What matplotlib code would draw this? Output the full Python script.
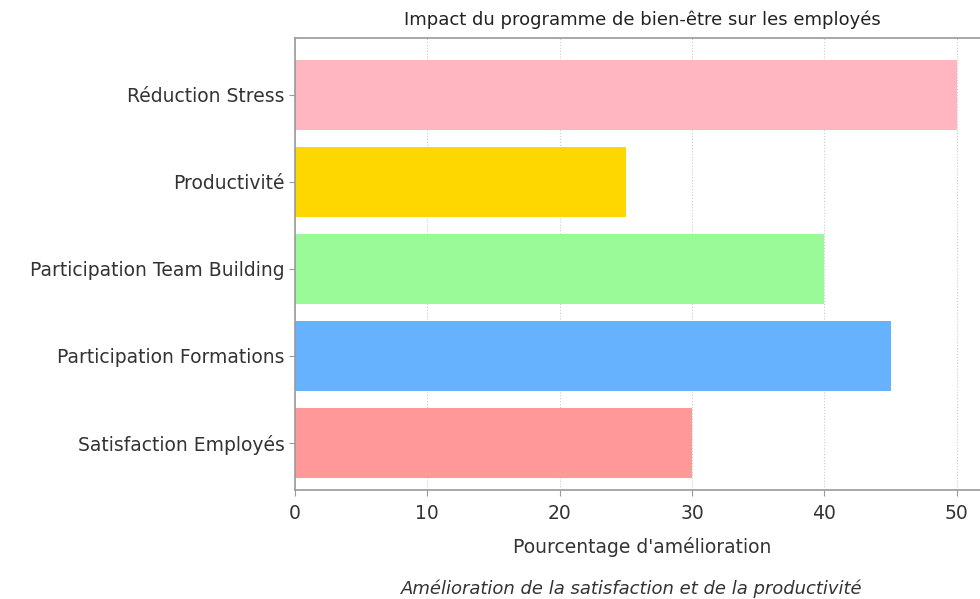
import matplotlib
matplotlib.use("Agg")
import matplotlib.pyplot as plt

categories = ["Satisfaction Employés", "Participation Formations", "Participation Team Building", "Productivité", "Réduction Stress"]
values = [30, 45, 40, 25, 50]
colors = ["#FF9999", "#66B2FF", "#98FB98", "#FFD700", "#FFB6C1"]
xticks = [0, 10, 20, 30, 40, 50]

plt.rcParams['font.family'] = ['DejaVu Sans']
fig = plt.figure(figsize=(9.8, 5.99), dpi=100)
ax = fig.add_axes([0.301, 0.182, 0.709, 0.7546])
ax.barh(categories, values, color=colors, height=0.8, zorder=2)
ax.set_xlim(0, 52.5)
ax.set_ylim(-0.54, 4.655)
ax.set_xticks(xticks)
ax.grid(axis='x', color='#cccccc', linestyle=':', linewidth=0.8, zorder=0)
for s in ['left', 'bottom', 'top', 'right']:
    ax.spines[s].set_color('#999999')
    ax.spines[s].set_linewidth(1.2)
ax.tick_params(colors='#999999', labelcolor='#333333', labelsize=13.5, length=4)
ax.tick_params(axis='x', pad=6)
ax.set_xlabel("Pourcentage d'amélioration", fontsize=13.5, color='#333333', labelpad=10)
ax.set_title("Impact du programme de bien-être sur les employés", fontsize=13, color='#222222', pad=9)
fig.text(0.645, 0.008, "Amélioration de la satisfaction et de la productivité", ha='center',
         fontsize=13, style='italic', color='#333333')
fig.savefig("out.png", dpi=100)
